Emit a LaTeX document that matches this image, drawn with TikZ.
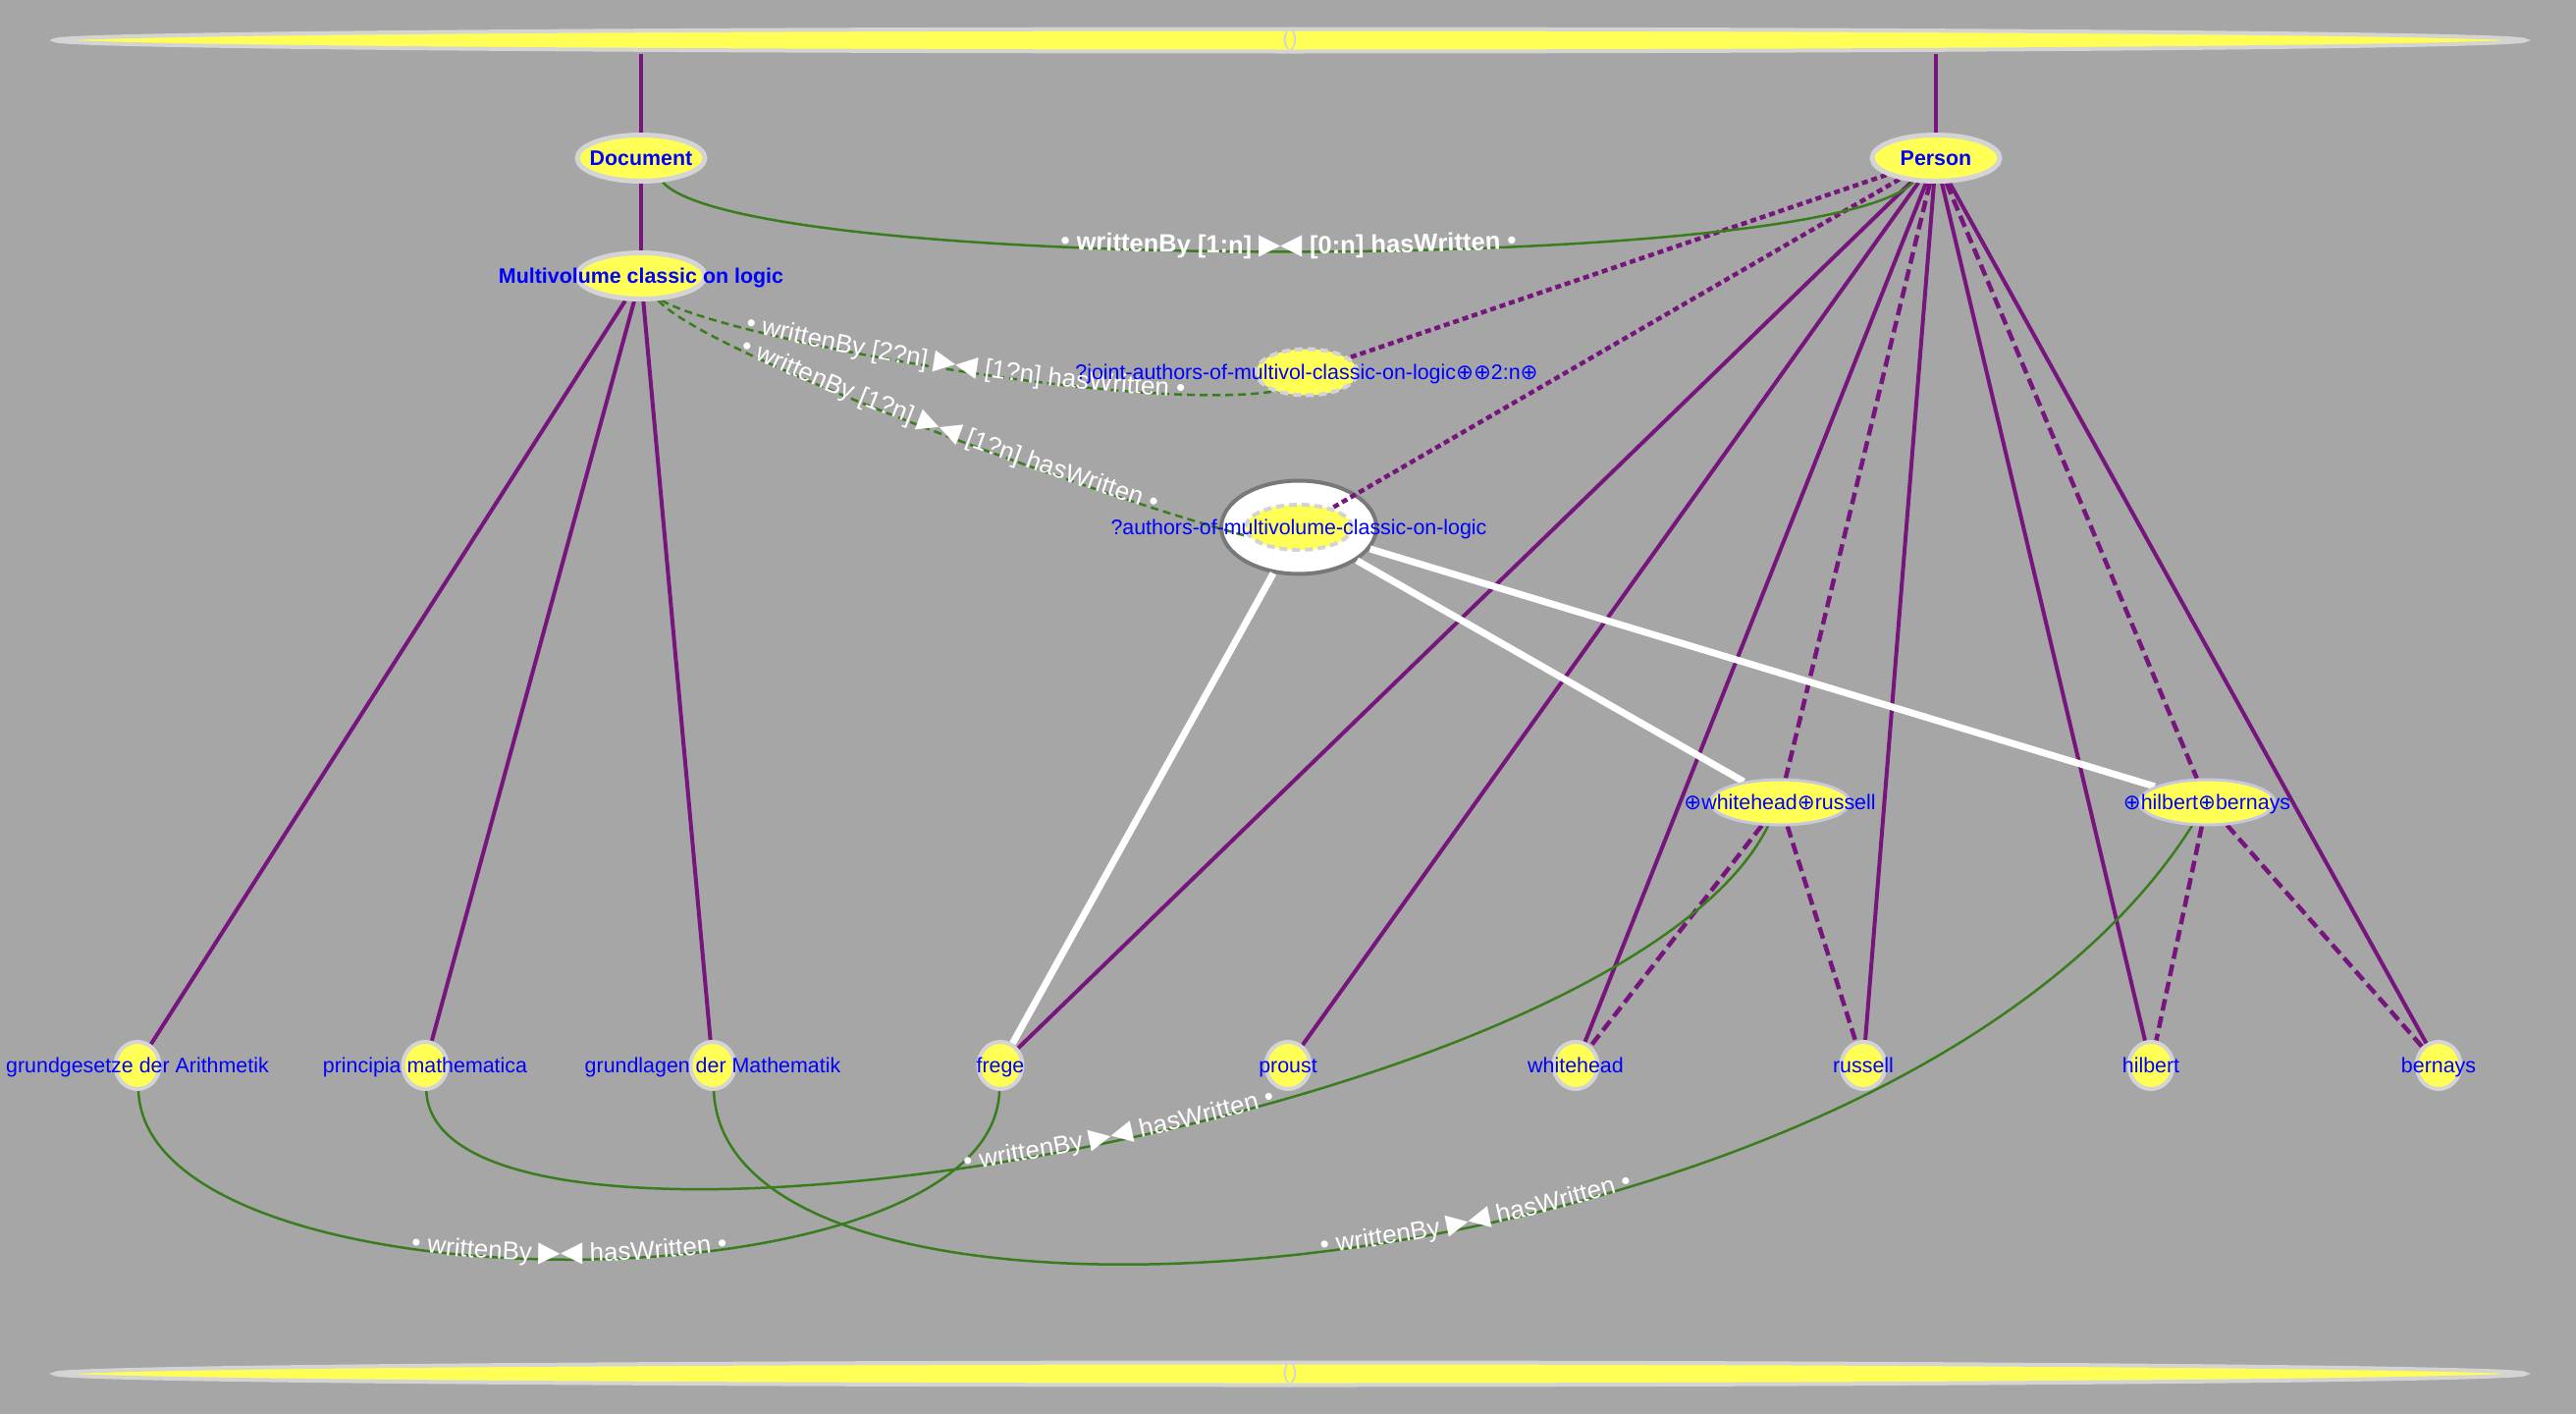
\documentclass[tikz,border=0pt]{standalone}
\usepackage{fontspec}
\setmainfont{Liberation Sans}
\newfontfamily\symf{DejaVu Sans}
\usetikzlibrary{shapes.geometric,decorations.text}
\definecolor{bgc}{RGB}{166,166,166}
\definecolor{yel}{RGB}{255,255,85}
\definecolor{bord}{RGB}{212,212,212}
\definecolor{purp}{RGB}{118,22,124}
\definecolor{grn}{RGB}{58,125,30}
\definecolor{obord}{RGB}{120,120,120}
\definecolor{lbord}{RGB}{200,200,218}
\definecolor{nblue}{RGB}{0,0,255}
\newcommand\opl{{\symf ⊕}}
\newcommand\nodefont{\fontsize{21.4}{25}\selectfont}
\newcommand\lblfont{\fontsize{26}{30}\selectfont\color{white}}
\newcommand\lblbold{\fontsize{25.5}{30}\selectfont\bfseries\color{white}}
\newcommand\lblsym{\symf\fontsize{29}{30}\selectfont\color{white}}
\pgfdeclarelayer{bg}
\pgfdeclarelayer{edges}
\pgfsetlayers{bg,edges,main}
\tikzset{
 ynode/.style={ellipse, fill=yel, draw=bord, line width=5pt, inner sep=0pt, text=nblue, font=\nodefont, text height=15pt, text depth=0pt},
 cls/.style={ynode, font=\nodefont\bfseries, minimum width=130pt, minimum height=47pt},
 dnode/.style={ynode, dash pattern=on 8pt off 5pt, line width=4pt},
 inst/.style={ynode, line width=4pt, minimum width=45pt, minimum height=48pt},
 grp/.style={ynode, draw=lbord, line width=3pt, minimum height=46pt},
 pline/.style={draw=purp, line width=4pt},
 pdash/.style={pline, line width=4.5pt, dash pattern=on 12pt off 6pt},
 pdot/.style={pline, line width=4.5pt, dash pattern=on 6pt off 4pt},
 gline/.style={draw=grn, line width=2.5pt},
 gdash/.style={gline, dash pattern=on 8pt off 5pt},
 wline/.style={draw=white, line width=7pt},
 lbl/.style={postaction={decorate, decoration={text along path, text align=center, raise=-2pt, text={#1}}}},
}
\begin{document}
\begin{tikzpicture}[x=1pt,y=-1pt]
\useasboundingbox (0,0) rectangle (2624,1440);
\begin{pgfonlayer}{bg}
\fill[bgc] (0,0) rectangle (2624,1440);
\node[ellipse, fill=white, draw=obord, line width=4pt, inner sep=0pt, minimum width=158pt, minimum height=95pt] (auo) at (1323,537) {};
\end{pgfonlayer}

% nodes
\node[ynode, line width=4pt, minimum width=2516pt, minimum height=23pt, text=bord, font=\fontsize{23}{26}\selectfont, text height=11pt] (topb) at (1314,41) {\makebox[0pt]{()}};
\node[ynode, line width=4pt, minimum width=2516pt, minimum height=23pt, text=bord, font=\fontsize{23}{26}\selectfont, text height=11pt] (botb) at (1314,1399) {\makebox[0pt]{()}};
\node[cls] (doc) at (653,161) {\makebox[0pt]{Document}};
\node[cls] (person) at (1972,161) {\makebox[0pt]{Person}};
\node[cls] (mv) at (653,281) {\makebox[0pt]{Multivolume classic on logic}};
\node[dnode, minimum width=103pt, minimum height=47pt] (joint) at (1331,379) {\makebox[0pt]{?joint-authors-of-multivol-classic-on-logic\opl\opl2:n\opl}};
\node[dnode, minimum width=108pt, minimum height=46pt] (aui) at (1323,537) {\makebox[0pt]{?authors-of-multivolume-classic-on-logic}};
\node[grp, minimum width=142pt] (wr) at (1813,817) {\makebox[0pt]{\opl whitehead\opl russell}};
\node[grp, minimum width=138pt] (hb) at (2248,817) {\makebox[0pt]{\opl hilbert\opl bernays}};
\node[inst] (gg) at (140,1085) {\makebox[0pt]{grundgesetze der Arithmetik}};
\node[inst] (pm) at (433,1085) {\makebox[0pt]{principia mathematica}};
\node[inst] (gl) at (726,1085) {\makebox[0pt]{grundlagen der Mathematik}};
\node[inst] (frege) at (1019,1085) {\makebox[0pt]{frege}};
\node[inst] (proust) at (1312,1085) {\makebox[0pt]{proust}};
\node[inst] (whitehead) at (1605,1085) {\makebox[0pt]{whitehead}};
\node[inst] (russell) at (1898,1085) {\makebox[0pt]{russell}};
\node[inst] (hilbert) at (2191,1085) {\makebox[0pt]{hilbert}};
\node[inst] (bernays) at (2484,1085) {\makebox[0pt]{bernays}};

\begin{pgfonlayer}{edges}
\draw[pline] (doc.north) -- (doc.north |- topb.south);
\draw[pline] (person.north) -- (person.north |- topb.south);
\draw[pline] (doc) -- (mv);
\draw[pline] (mv) -- (gg);
\draw[pline] (mv) -- (pm);
\draw[pline] (mv) -- (gl);
\draw[pline] (person) -- (frege);
\draw[pline] (person) -- (proust);
\draw[pline] (person) -- (whitehead);
\draw[pline] (person) -- (russell);
\draw[pline] (person) -- (hilbert);
\draw[pline] (person) -- (bernays);
\draw[pdash] (person) -- (wr);
\draw[pdash] (person) -- (hb);
\draw[pdash] (wr) -- (whitehead);
\draw[pdash] (wr) -- (russell);
\draw[pdash] (hb) -- (hilbert);
\draw[pdash] (hb) -- (bernays);
\draw[pdot] (person) -- (joint);
\draw[pdot] (person) -- (aui);
\draw[wline] (auo) -- (frege);
\draw[wline] (auo) -- (wr);
\draw[wline] (auo) -- (hb);

\draw[gline, lbl={|\lblbold|• writtenBy [1:n] |\lblsym|▶◀|\lblbold| [0:n] hasWritten •}]
  (doc) .. controls (760,280) and (1860,280) .. (person);
\draw[gdash, lbl={|\lblfont|• writtenBy [2?n] |\lblsym|▶◀|\lblfont| [1?n] hasWritten •}]
  (mv.-50) .. controls (740,345) and (1160,420) .. (joint.210);
\draw[gdash, lbl={|\lblfont|• writtenBy [1?n] |\lblsym|▶◀|\lblfont| [1?n] hasWritten •}]
  (mv.-55) .. controls (720,360) and (1100,500) .. (aui.190);
\draw[gline, lbl={|\lblfont|• writtenBy |\lblsym|▶◀|\lblfont| hasWritten •}]
  (gg) .. controls (150,1340) and (1010,1340) .. (frege);
\draw[gline, lbl={|\lblfont|• writtenBy |\lblsym|▶◀|\lblfont| hasWritten •}]
  (pm) .. controls (445,1340) and (1650,1145) .. (wr);
\draw[gline, lbl={|\lblfont|• writtenBy |\lblsym|▶◀|\lblfont| hasWritten •}]
  (gl) .. controls (740,1420) and (1930,1320) .. (hb);
\end{pgfonlayer}
\end{tikzpicture}
\end{document}
